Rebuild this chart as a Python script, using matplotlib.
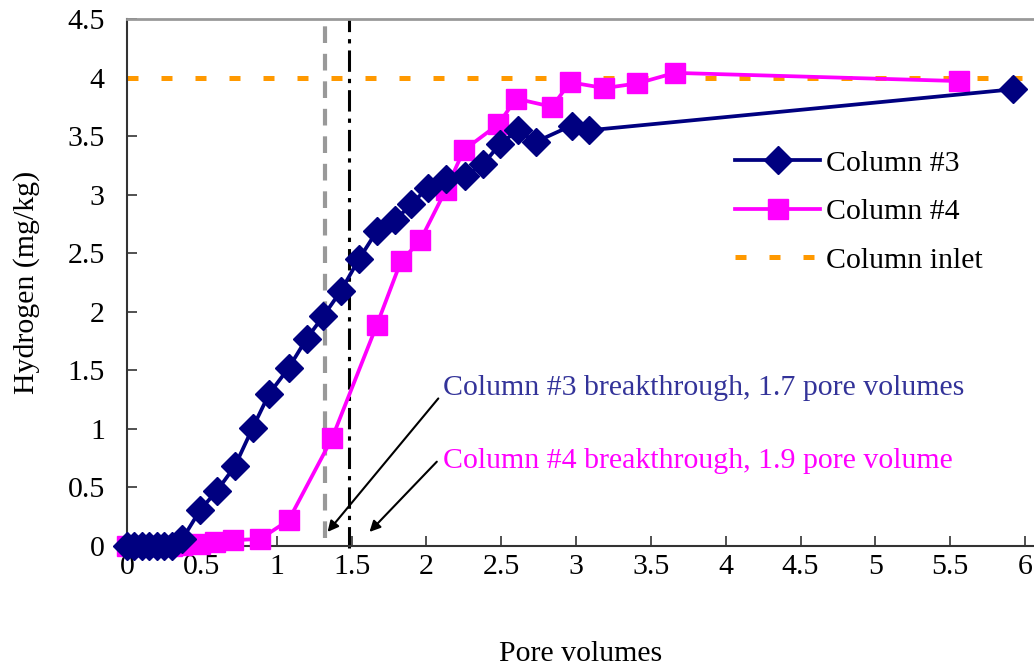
import numpy as np
import matplotlib.pyplot as plt

plt.rcParams['font.family'] = ['Liberation Serif', 'DejaVu Serif']

# ---------- data ----------
col3_x = [0, 0.05, 0.10, 0.15, 0.20, 0.25, 0.30, 0.37, 0.49, 0.60, 0.72, 0.84, 0.95,
          1.08, 1.20, 1.31, 1.43, 1.55, 1.67, 1.79, 1.90, 2.01, 2.13, 2.26, 2.38,
          2.49, 2.61, 2.73, 2.97, 3.09, 5.92]
col3_y = [0, 0, 0, 0, 0, 0, 0, 0.06, 0.31, 0.47, 0.68, 1.01, 1.30,
          1.52, 1.77, 1.96, 2.18, 2.45, 2.69, 2.78, 2.92, 3.06, 3.13, 3.16, 3.26,
          3.43, 3.55, 3.45, 3.59, 3.55, 3.90]

col4_x = [0, 0.05, 0.10, 0.15, 0.20, 0.25, 0.30, 0.37, 0.49, 0.59, 0.71, 0.89,
          1.08, 1.37, 1.67, 1.83, 1.96, 2.13, 2.25, 2.48, 2.60, 2.84, 2.96,
          3.19, 3.41, 3.66, 5.56]
col4_y = [0, 0, 0, 0, 0, 0, 0, 0.01, 0.02, 0.03, 0.05, 0.06,
          0.22, 0.92, 1.89, 2.43, 2.61, 3.04, 3.38, 3.60, 3.82, 3.75, 3.96,
          3.91, 3.95, 4.04, 3.97]

inlet_conc = 4.0
gray_line_x = 1.325
black_line_x = 1.48

labels = ["Column #3", "Column #4", "Column inlet"]
note3 = "Column #3 breakthrough, 1.7 pore volumes"
note4 = "Column #4 breakthrough, 1.9 pore volume"

xticks = np.arange(0, 6.01, 0.5)
yticks = np.arange(0, 4.51, 0.5)

NAVY = "#000080"
MAGENTA = "#FF00FF"
ORANGE = "#FF9900"
FS = 21.5

fig = plt.figure(figsize=(10.34, 6.68), dpi=100)
ax = fig.add_axes([127 / 1034, 1 - 546 / 668, 907 / 1034, 527 / 668])

inlet, = ax.plot([0, 6.06], [inlet_conc, inlet_conc], color=ORANGE, lw=3.6,
                 ls=(0, (2.2, 4.6)), zorder=2)
ax.plot([gray_line_x, gray_line_x], [0.07, 4.47], color="#999999", lw=3,
        ls=(0, (4, 2.6)), zorder=2, clip_on=False)
ax.plot([black_line_x, black_line_x], [-0.02, 4.5], color="black", lw=2.2,
        ls=(0, (7, 2.3, 1.4, 2.3)), zorder=2, clip_on=False)

h3, = ax.plot(col3_x, col3_y, color=NAVY, lw=2.7, marker="D", ms=14,
              mec=NAVY, mfc=NAVY, zorder=4, clip_on=False)
h4, = ax.plot(col4_x, col4_y, color=MAGENTA, lw=2.7, marker="s", ms=14.5,
              mec=MAGENTA, mfc=MAGENTA, zorder=3, clip_on=False)

# annotations
ax.text(2.11, 1.35, note3, color="#333399", fontsize=FS, va="center", ha="left")
ax.text(2.11, 0.73, note4, color=MAGENTA, fontsize=FS, va="center", ha="left")
arrow = dict(arrowstyle="-|>", color="black", lw=1.5, mutation_scale=16,
             shrinkA=0, shrinkB=0)
ax.annotate("", xy=(1.34, 0.12), xytext=(2.08, 1.26), arrowprops=arrow)
ax.annotate("", xy=(1.62, 0.12), xytext=(2.07, 0.72), arrowprops=arrow)

ax.set_xlim(0, 6.06)
ax.set_ylim(0, 4.5)
ax.set_xticks(xticks)
ax.set_xticklabels([f"{v:g}" for v in xticks])
ax.set_yticks(yticks)
ax.set_yticklabels([f"{v:g}" for v in yticks])
ax.tick_params(direction="in", length=7, width=1.2, labelsize=FS, color="#333333")
ax.tick_params(axis="y", pad=16)
ax.tick_params(axis="x", pad=6)

ax.spines["right"].set_visible(False)
ax.spines["top"].set_color("#999999")
ax.spines["top"].set_linewidth(2)
for s in ("left", "bottom"):
    ax.spines[s].set_color("#333333")
    ax.spines[s].set_linewidth(1.5)

ax.set_xlabel("Pore volumes", fontsize=FS, labelpad=44)
ax.set_ylabel("Hydrogen (mg/kg)", fontsize=FS, labelpad=20)

ax.legend([h3, h4, inlet], labels, loc="upper left",
          bbox_to_anchor=(735 / 1034, 1 - 150 / 668),
          bbox_transform=fig.transFigure, frameon=False, fontsize=FS,
          borderpad=0, borderaxespad=0, handlelength=2.85,
          handletextpad=0.2, labelspacing=0.72)

fig.savefig("out.png", dpi=100)
